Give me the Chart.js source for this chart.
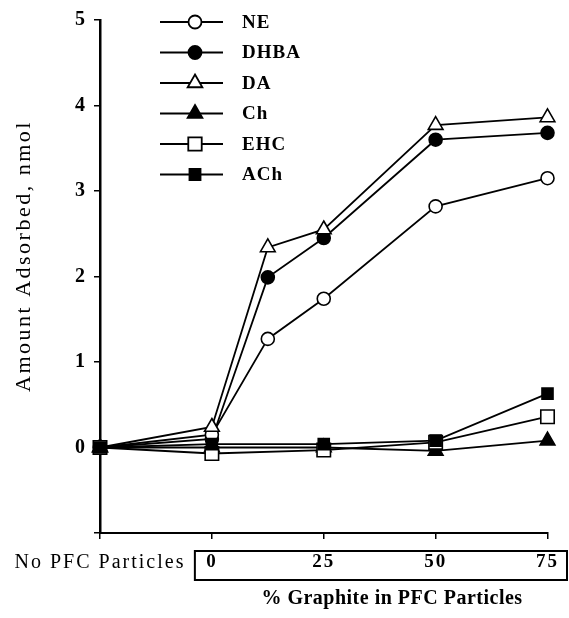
<!DOCTYPE html>
<html>
<head>
<meta charset="utf-8">
<script src="https://cdn.jsdelivr.net/npm/chart.js@4/dist/chart.umd.min.js"></script>
<style>
  html, body { margin: 0; padding: 0; background: #fff; }
</style>
</head>
<body>
<canvas id="chart" width="569" height="618"></canvas>
<script>
// -25 on the x axis stands in for the "No PFC Particles" control
const graphiteLevels = [-25, 0, 12.5, 25, 50, 75]
const lowLevels = [-25, 0, 25, 50, 75]
const xTickValues = [-25, 0, 25, 50, 75]

const neValues = [0, 0.15, 1.27, 1.74, 2.82, 3.15]
const dhbaValues = [0, 0.1, 1.99, 2.45, 3.6, 3.68]
const daValues = [0, 0.24, 2.34, 2.55, 3.77, 3.86]
const chValues = [0, 0.0, 0.0, -0.04, 0.08]
const ehcValues = [0, -0.07, -0.03, 0.06, 0.36]
const achValues = [0, 0.04, 0.04, 0.08, 0.63]

const seriesNames = ['NE', 'DHBA', 'DA', 'Ch', 'EHC', 'ACh']

const serif = '"Liberation Serif", "Times New Roman", serif'

const toPoints = (xs, ys) => xs.map((x, i) => ({ x, y: ys[i] }))

const makeSeries = (label, data, pointStyle, filled, radius, order) => ({
  label,
  data,
  order,
  clip: false,
  borderColor: '#000',
  borderWidth: 1.8,
  tension: 0,
  pointStyle,
  pointRadius: radius,
  pointHoverRadius: radius,
  pointBorderWidth: 1.6,
  pointBorderColor: '#000',
  pointBackgroundColor: filled ? '#000' : '#fff'
})

// lower order is painted last, so ACh's black square ends up on top
const datasets = [
  makeSeries(seriesNames[0], toPoints(graphiteLevels, neValues), 'circle', false, 6.5, 3),
  makeSeries(seriesNames[1], toPoints(graphiteLevels, dhbaValues), 'circle', true, 6.5, 4),
  makeSeries(seriesNames[2], toPoints(graphiteLevels, daValues), 'triangle', false, 8.5, 2),
  makeSeries(seriesNames[3], toPoints(lowLevels, chValues), 'triangle', true, 8.5, 5),
  makeSeries(seriesNames[4], toPoints(lowLevels, ehcValues), 'rect', false, 9.5, 1),
  makeSeries(seriesNames[5], toPoints(lowLevels, achValues), 'rect', true, 7.8, 0)
]

// legend, the boxed tick row and the axis titles are drawn by hand
const annotations = {
  id: 'annotations',
  beforeDraw(chart) {
    chart.ctx.letterSpacing = '2px'
  },
  afterDraw(chart) {
    const { ctx, scales } = chart
    const x = scales.x
    const bottom = chart.chartArea.bottom
    const boxLeft = x.getPixelForValue(0) - 17

    ctx.save()
    ctx.strokeStyle = '#000'
    ctx.fillStyle = '#000'

    // box around the graphite % tick labels
    ctx.lineWidth = 2
    ctx.strokeRect(boxLeft, bottom + 18, chart.width - 2 - boxLeft, 29)

    // x title
    ctx.letterSpacing = '0.5px'
    ctx.font = 'bold 20px ' + serif
    ctx.textAlign = 'center'
    ctx.textBaseline = 'middle'
    ctx.fillText('% Graphite in PFC Particles', 392, 599)

    // y title
    ctx.save()
    ctx.letterSpacing = '2.5px'
    ctx.translate(24, 256)
    ctx.rotate(-Math.PI / 2)
    ctx.font = '22px ' + serif
    ctx.fillText('Amount Adsorbed, nmol', 0, 0)
    ctx.restore()

    // legend
    ctx.letterSpacing = '1px'
    ctx.textAlign = 'left'
    ctx.font = 'bold 19px ' + serif
    chart.data.datasets.forEach((ds, i) => {
      const y = 22 + i * 30.5
      ctx.lineWidth = 1.8
      ctx.strokeStyle = '#000'
      ctx.beginPath()
      ctx.moveTo(160, y)
      ctx.lineTo(223, y)
      ctx.stroke()
      ctx.fillStyle = ds.pointBackgroundColor
      Chart.helpers.drawPoint(ctx, {
        pointStyle: ds.pointStyle,
        radius: ds.pointRadius,
        borderWidth: 1.6,
        rotation: 0
      }, 195, y)
      ctx.fillStyle = '#000'
      ctx.fillText(ds.label, 242, y + 1)
    })
    ctx.restore()
    ctx.letterSpacing = '0px'
  }
}

new Chart(document.getElementById('chart'), {
  type: 'line',
  data: { datasets },
  plugins: [annotations],
  options: {
    responsive: false,
    animation: false,
    events: [],
    layout: { padding: { top: 20, right: 18, left: 0, bottom: 0 } },
    plugins: {
      legend: { display: false },
      tooltip: { enabled: false }
    },
    scales: {
      x: {
        type: 'linear',
        min: -25,
        max: 75,
        afterBuildTicks: scale => {
          scale.ticks = xTickValues.map(value => ({ value }))
        },
        afterFit: scale => { scale.height = 85 },
        border: { display: true, color: '#000', width: 2 },
        grid: { drawOnChartArea: false, drawTicks: true, tickLength: 6, color: '#000', lineWidth: 1.5 },
        ticks: {
          autoSkip: false,
          maxRotation: 0,
          padding: 12,
          color: '#000',
          callback: v => (v === -25 ? 'No PFC Particles' : v),
          font: ctx => (ctx.tick && ctx.tick.value === -25
            ? { family: serif, size: 20, weight: 'normal' }
            : { family: serif, size: 19, weight: 'bold' })
        }
      },
      y: {
        min: -1,
        max: 5,
        afterFit: scale => { scale.width = 100 },
        border: { display: true, color: '#000', width: 2.5 },
        grid: { drawOnChartArea: false, drawTicks: true, tickLength: 6, color: '#000', lineWidth: 1.5 },
        ticks: {
          stepSize: 1,
          padding: 7,
          color: '#000',
          callback: v => (v < 0 ? '' : v),
          font: { family: serif, size: 20, weight: 'bold' }
        }
      }
    }
  }
})
</script>
</body>
</html>
